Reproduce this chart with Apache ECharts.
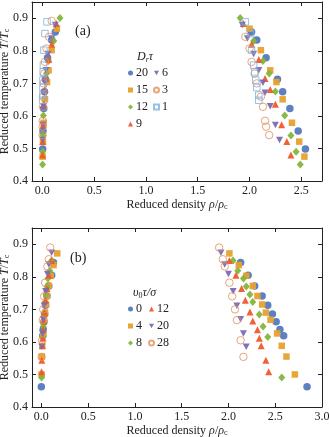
<!DOCTYPE html>
<html><head><meta charset="utf-8">
<script src="https://cdn.jsdelivr.net/npm/echarts@6/dist/echarts.min.js"></script>
<style>html,body{margin:0;padding:0;background:#fff}#c{width:330px;height:437px}</style>
</head><body><div id="c"></div>
<script>
// ---------- Panel (a): D_r tau ----------
const a20T = [0.858,0.833,0.779,0.713,0.674,0.623,0.554,0.498];
const a20L = [2.02,2.07,2.16,2.27,2.32,2.39,2.47,2.54];
const a20G = [0.125,0.09,0.05,0.03,0.02,0.013,0.006,0.003];
const a15T = [0.868,0.802,0.740,0.704,0.651,0.579,0.521,0.475];
const a15L = [2.00,2.11,2.20,2.26,2.32,2.41,2.48,2.53];
const a15G = [0.14,0.09,0.06,0.045,0.025,0.012,0.006,0.003];
const a12T = [0.901,0.830,0.769,0.730,0.675,0.601,0.540,0.490,0.451];
const a12L = [1.91,2.04,2.13,2.19,2.25,2.34,2.40,2.45,2.49];
const a12G = [0.17,0.11,0.06,0.04,0.025,0.01,0.005,0.003,0.002];
const a9T = [0.884,0.820,0.773,0.715,0.681,0.636,0.573,0.521,0.480];
const a9L = [1.94,2.02,2.09,2.15,2.20,2.25,2.31,2.36,2.40];
const a9G = [0.135,0.09,0.06,0.035,0.025,0.015,0.008,0.004,0.002];
const a6T = [0.879,0.838,0.790,0.740,0.702,0.671,0.630,0.572,0.526];
const a6L = [1.93,1.98,2.04,2.09,2.13,2.15,2.20,2.25,2.29];
const a6G = [0.125,0.09,0.055,0.035,0.025,0.018,0.012,0.006,0.003];
const a3T = [0.892,0.843,0.807,0.766,0.730,0.700,0.659,0.628,0.585,0.567,0.541];
const a3L = [null,1.96,2.00,2.02,2.05,2.07,2.11,2.13,2.15,2.16,2.19];
const a3G = [0.09,0.065,0.04,0.025,0.018,0.012,0.008,0.006,0.004,0.003,0.002];
const a1T = [0.889,0.853,0.802,0.756,0.735,0.710,0.687,0.664,0.648];
const a1L = [1.96,2.01,2.02,2.04,2.05,2.06,2.07,2.09,2.09];
const a1G = [0.045,0.025,0.015,0.01,0.008,0.006,0.005,0.004,0.003];

// ---------- Panel (b): v0 tau / sigma ----------
const b0T = [0.844,0.805,0.772,0.741,0.713,0.686,0.662,0.638,0.619,0.462];
const b0L = [2.13,2.21,2.28,2.36,2.42,2.47,2.51,2.55,2.59,2.84];
const b0G = [0.13,0.11,0.08,0.06,0.045,0.035,0.028,0.02,0.015,0.0];
const b4T = [0.872,0.836,0.803,0.772,0.741,0.715,0.690,0.668,0.626,0.588,0.555,0.500];
const b4L = [2.01,2.11,2.19,2.26,2.31,2.36,2.40,2.45,2.52,2.57,2.62,2.71];
const b4G = [0.17,0.13,0.1,0.08,0.06,0.05,0.04,0.03,0.02,0.01,0.005,0.003];
const b8T = [0.850,0.819,0.795,0.770,0.746,0.723,0.684,0.647,0.615,0.491];
const b8L = [2.05,2.10,2.16,2.19,2.23,2.26,2.33,2.37,2.42,2.57];
const b8G = [0.11,0.09,0.07,0.06,0.05,0.04,0.03,0.02,0.015,0.002];
const b12T = [0.850,0.805,0.764,0.728,0.692,0.664,0.637,0.611,0.588,0.544,0.508];
const b12L = [2.01,2.08,2.14,2.18,2.23,2.26,2.31,2.33,2.35,2.40,2.43];
const b12G = [0.11,0.08,0.06,0.045,0.035,0.025,0.02,0.015,0.01,0.005,0.002];
const b20T = [0.874,0.838,0.809,0.756,0.711,0.670,0.626,0.585];
const b20L = [1.92,1.96,2.00,2.05,2.09,2.13,2.16,2.19];
const b20G = [0.11,0.08,0.065,0.045,0.03,0.02,0.012,0.005];
const b28T = [0.890,0.854,0.832,0.782,0.740,0.700,0.667,0.605,0.554];
const b28L = [1.90,1.94,1.96,2.01,2.04,2.07,2.09,2.13,2.16];
const b28G = [0.095,0.08,0.065,0.04,0.03,0.02,0.015,0.008,0.003];

const xTicksA = [0.0,0.5,1.0,1.5,2.0,2.5];
const xTicksB = [0.0,0.5,1.0,1.5,2.0,2.5,3.0];
const yTicks = [0.4,0.5,0.6,0.7,0.8,0.9];

const FONT = 'Liberation Serif';
const C = {blue:'#5479bd', orange:'#e7a02f', green:'#84b53b', red:'#ef5a2a', purple:'#7b6cb4', ocircle:'#e0905a', lblue:'#7fb2df'};
const TRI_DOWN = 'path://M0,0 L10,0 L5,9 Z';

const styles = {
  circle:  {symbol:'circle', size:7.5, fill:true},
  square:  {symbol:'rect', size:6.5, fill:true},
  diamond: {symbol:'diamond', size:[7,8], fill:true},
  tri:     {symbol:'triangle', size:7, fill:true},
  tridown: {symbol:TRI_DOWN, size:[7,6.5], fill:true},
  ocircle: {symbol:'circle', size:7.5, fill:false},
  osquare: {symbol:'rect', size:6.5, fill:false}
};

function pts(T, L, G){
  const out = [];
  T.forEach((t,i)=>{ if(L[i]!=null) out.push([L[i],t]); if(G[i]!=null) out.push([G[i],t]); });
  return out;
}
function mk(name, idx, T, L, G, st, color){
  const s = styles[st];
  return {
    type:'scatter', name, xAxisIndex:idx, yAxisIndex:idx,
    data: pts(T,L,G), symbol:s.symbol, symbolSize:s.size,
    itemStyle: s.fill ? {color, opacity:0.95} : {color:'rgba(255,255,255,0)', borderColor:color, borderWidth:1},
    z: 2
  };
}

const series = [
  mk('a20',0,a20T,a20L,a20G,'circle',C.blue),
  mk('a15',0,a15T,a15L,a15G,'square',C.orange),
  mk('a12',0,a12T,a12L,a12G,'diamond',C.green),
  mk('a9',0,a9T,a9L,a9G,'tri',C.red),
  mk('a6',0,a6T,a6L,a6G,'tridown',C.purple),
  mk('a3',0,a3T,a3L,a3G,'ocircle',C.ocircle),
  mk('a1',0,a1T,a1L,a1G,'osquare',C.lblue),
  mk('b0',1,b0T,b0L,b0G,'circle',C.blue),
  mk('b4',1,b4T,b4L,b4G,'square',C.orange),
  mk('b8',1,b8T,b8L,b8G,'diamond',C.green),
  mk('b12',1,b12T,b12L,b12G,'tri',C.red),
  mk('b20',1,b20T,b20L,b20G,'tridown',C.purple),
  mk('b28',1,b28T,b28L,b28G,'ocircle',C.ocircle)
];

const rich = {
  t:{fontFamily:FONT,fontSize:12,color:'#222'},
  i:{fontFamily:FONT,fontSize:12,fontStyle:'italic',color:'#222'},
  s:{fontFamily:FONT,fontSize:8,color:'#222',padding:[5,0,0,0]}
};

function xAx(gi, max, ticks, main){
  return {
    type:'value', gridIndex:gi, min:-0.1, max, position: main?'bottom':'top',
    axisLine:{show:true,onZero:false,lineStyle:{color:'#222',width:1}},
    axisTick:{show:true,inside:true,length:4,customValues:ticks,lineStyle:{color:'#222'}},
    axisLabel:{show:main,customValues:ticks,formatter:v=>v.toFixed(1),fontFamily:FONT,fontSize:12,color:'#222',margin:4},
    splitLine:{show:false},
    name: main ? '{t|Reduced density }{i|ρ}{t|/}{i|ρ}{s|c}' : '',
    nameLocation:'middle', nameGap:17, nameMoveOverlap:false, nameTextStyle:{rich}
  };
}
function yAx(gi, main){
  return {
    type:'value', gridIndex:gi, min:0.4, max:0.95, position: main?'left':'right',
    axisLine:{show:true,onZero:false,lineStyle:{color:'#222',width:1}},
    axisTick:{show:true,inside:true,length:4,customValues:yTicks,lineStyle:{color:'#222'}},
    axisLabel:{show:main,customValues:yTicks,formatter:v=>v.toFixed(1),fontFamily:FONT,fontSize:12,color:'#222',margin:4},
    splitLine:{show:false},
    name: main ? '{t|Reduced temperature }{i|T}{t|/}{i|T}{s|c}' : '',
    nameLocation:'middle', nameGap:21, nameRotate:90, nameMoveOverlap:false, nameTextStyle:{rich}
  };
}

function leg(names, left, top){
  return {
    data:names, orient:'vertical', left, top, itemWidth:5, itemHeight:5, itemGap:5,
    padding:0, selectedMode:false,
    formatter:n=>n.slice(1),
    textStyle:{fontFamily:FONT,fontSize:12,color:'#222',padding:[0,0,0,-2]}
  };
}

const option = {
  animation:false,
  backgroundColor:'#fff',
  grid:[
    {left:32,right:8,top:2,height:179,containLabel:false,outerBoundsMode:'none'},
    {left:32,right:8,top:228,height:179,containLabel:false,outerBoundsMode:'none'}
  ],
  xAxis:[xAx(0,2.7,xTicksA,true), xAx(1,3.0,xTicksB,true), xAx(0,2.7,xTicksA,false), xAx(1,3.0,xTicksB,false)],
  yAxis:[yAx(0,true), yAx(1,true), yAx(0,false), yAx(1,false)],
  legend:[
    leg(['a20','a15','a12','a9'],128,67),
    leg(['a6','a3','a1'],153,67),
    leg(['b0','b4','b8'],128,303),
    leg(['b12','b20','b28'],148,303)
  ],
  graphic:[
    {type:'text',left:75,top:24,style:{text:'(a)',fontFamily:FONT,fontSize:14,fill:'#222'}},
    {type:'text',left:70,top:251,style:{text:'(b)',fontFamily:FONT,fontSize:14,fill:'#222'}},
    {type:'text',left:137,top:51,style:{text:'{i|D}{s|r}{i|τ}',rich:{
      i:{fontFamily:FONT,fontSize:12,fontStyle:'italic',fill:'#222'},
      s:{fontFamily:FONT,fontSize:8,fontStyle:'italic',fill:'#222',padding:[5,0,0,0]}}}},
    {type:'text',left:133,top:287,style:{text:'{i|υ}{s|0}{i|τ/σ}',rich:{
      i:{fontFamily:FONT,fontSize:12,fontStyle:'italic',fill:'#222'},
      s:{fontFamily:FONT,fontSize:8,fill:'#222',padding:[5,0,0,0]}}}}
  ],
  series
};
const chart = echarts.init(document.getElementById('c'), null, {renderer:'canvas'});
chart.setOption(option);
</script></body></html>
